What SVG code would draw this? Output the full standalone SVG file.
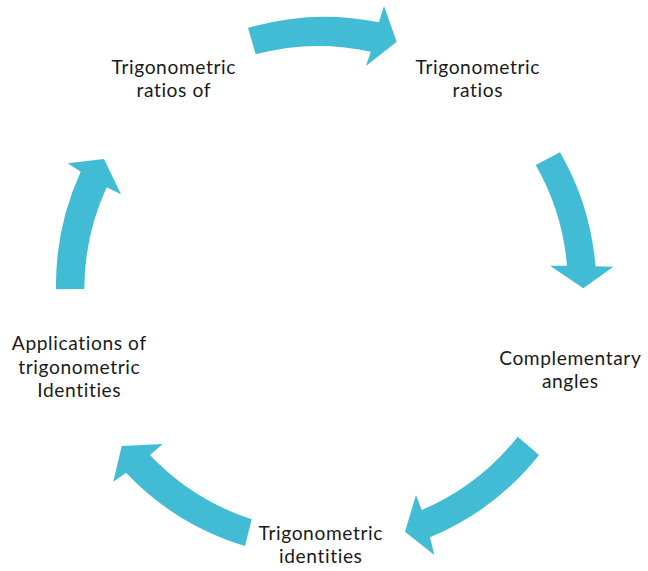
<svg xmlns="http://www.w3.org/2000/svg" width="648" height="571" viewBox="0 0 648 571">
<style>
.arrow{fill:#42BBD5;stroke:none}
.lbl{font-family:Lato,"Open Sans","Noto Sans",sans-serif;font-size:19.2px;letter-spacing:0.6px;fill:#1a1a1a;text-anchor:middle}
</style>
<rect width="648" height="571" fill="#ffffff"/>
<g id="connectors">
<path class="arrow" d="M248,28 A270,270 0 0 1 379,22.3 L384,6 L396.7,41.7 L366,66 L370.7,51.7 A242,242 0 0 0 255.7,54.3 Z"/>
<path class="arrow" d="M560,152.3 A272,272 0 0 1 595.5,266.2 L613.3,266.7 L583.3,288.3 L550,265.7 L567,265.8 A244,244 0 0 0 535.7,165 Z"/>
<path class="arrow" d="M539,455 A272,272 0 0 1 430,537.3 L434.3,555 L405,531.7 L416,495 L421.7,510 A244,244 0 0 0 517.7,436.7 Z"/>
<path class="arrow" d="M245,546 A272,272 0 0 1 126,472.7 L113.3,481.7 L121.7,446 L162.7,444 L150,455 A244,244 0 0 0 251.7,519.3 Z"/>
<path class="arrow" d="M56,289.3 A272,272 0 0 1 80.7,171.7 L67.7,163.3 L104,159 L121,194.3 L106.7,187.3 A244,244 0 0 0 84.3,289 Z"/>
</g>
<g id="node-trig-ratios">
<text class="lbl" x="477.8" y="74">Trigonometric</text>
<text class="lbl" x="477.8" y="97.1">ratios</text>
</g>
<g id="node-complementary">
<text class="lbl" x="570.3" y="364.6">Complementary</text>
<text class="lbl" x="570.3" y="387.7">angles</text>
</g>
<g id="node-identities">
<text class="lbl" x="320.8" y="540.2">Trigonometric</text>
<text class="lbl" x="320.8" y="563.3">identities</text>
</g>
<g id="node-applications">
<text class="lbl" x="79.3" y="350.4">Applications of</text>
<text class="lbl" x="79.3" y="373.5">trigonometric</text>
<text class="lbl" x="79.3" y="396.6">Identities</text>
</g>
<g id="node-trig-ratios-of">
<text class="lbl" x="173.8" y="74">Trigonometric</text>
<text class="lbl" x="173.8" y="97.1">ratios of</text>
</g>
</svg>
